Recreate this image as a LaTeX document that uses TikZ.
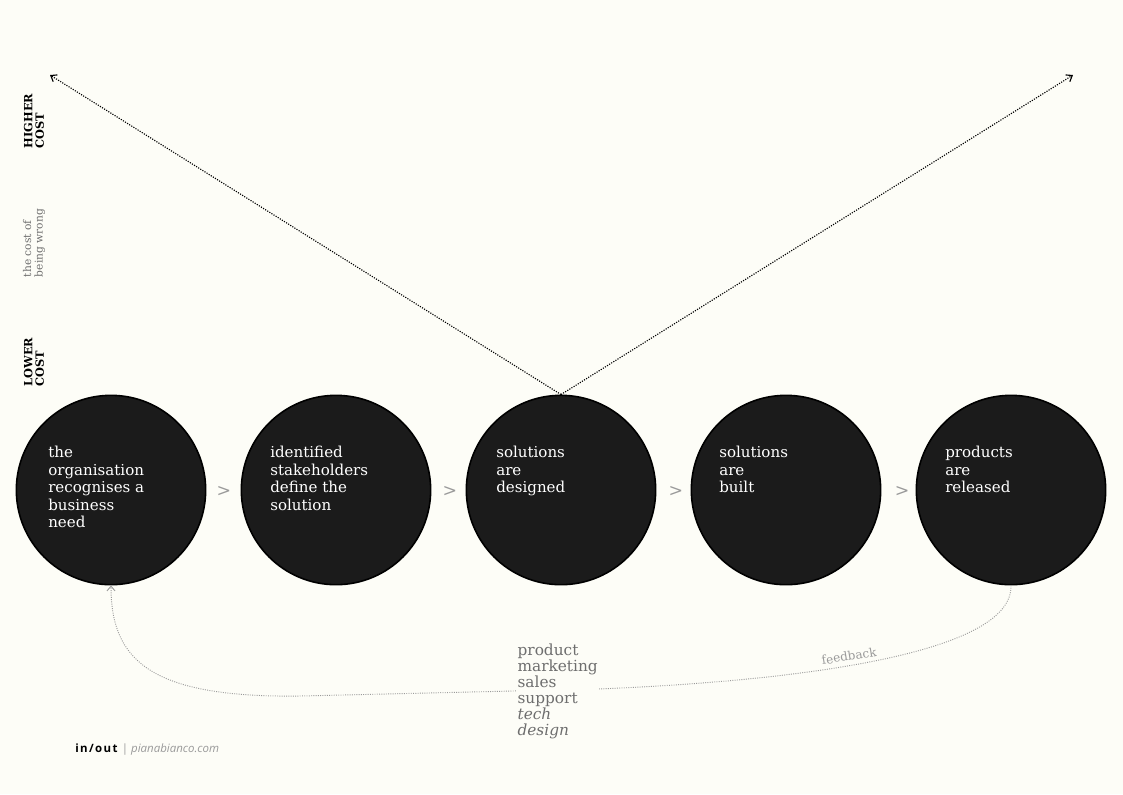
\documentclass[tikz,border=0pt]{standalone}
\usepackage{fontspec}
\setmainfont{DejaVu Serif}
\newfontfamily\footfont{Open Sans}
\usetikzlibrary{arrows.meta}
\definecolor{bgc}{HTML}{FDFDF7}
\definecolor{disc}{HTML}{1B1B1B}
\definecolor{greytxt}{HTML}{6E6E6E}
\definecolor{lightgrey}{HTML}{9A9A9A}
\tikzset{
  stage/.style={circle, draw=black, line width=1.2pt, fill=disc, minimum size=142pt, inner sep=0pt},
  stagetext/.style={anchor=north west, text=white, align=left, font=\fontsize{11.3}{13.1}\selectfont, inner sep=0pt},
  sep/.style={text=lightgrey, font=\fontsize{13}{13}\selectfont},
  costarrow/.style={densely dotted, line width=0.85pt, -{Straight Barb[length=4pt,width=6pt]}},
  fb/.style={densely dotted, draw=lightgrey, line width=0.7pt, -{Straight Barb[length=3.5pt,width=6pt]}},
  axislabel/.style={rotate=90, align=left, font=\fontsize{8.5}{8.5}\selectfont\bfseries, inner sep=0pt},
  axisnote/.style={rotate=90, align=left, text=greytxt, font=\fontsize{8}{8.5}\selectfont, inner sep=0pt}
}
\begin{document}
\begin{tikzpicture}[x=0.75pt,y=-0.75pt]
\fill[bgc] (0,0) rectangle (1123,794);
\useasboundingbox (0,0) rectangle (1123,794);

\node[stage] (c1) at (111,490) {};
\node[stage] (c2) at (336,490) {};
\node[stage] (c3) at (561,490) {};
\node[stage] (c4) at (786,490) {};
\node[stage] (c5) at (1011,490) {};

\node[stagetext] (t1) at (48,446) {the\\organisation\\recognises a\\business\\need};
\node[stagetext] (t2) at (270,446) {identified\\stakeholders\\define the\\solution};
\node[stagetext] (t3) at (496,446) {solutions\\are\\designed};
\node[stagetext] (t4) at (719,446) {solutions\\are\\built};
\node[stagetext] (t5) at (945,446) {products\\are\\released};

\node[sep] (s1) at (224,491) {>};
\node[sep] (s2) at (450,491) {>};
\node[sep] (s3) at (676,491) {>};
\node[sep] (s4) at (902,491) {>};

\coordinate (hl) at (50,75);
\coordinate (hr) at (1073,75);
\draw[costarrow] (c3.north) -- (hl);
\draw[costarrow] (c3.north) -- (hr);

\node[axislabel] (hc) at (34,121) {HIGHER\\COST};
\node[axisnote] (cw) at (34,243) {the cost of\\being wrong};
\node[axislabel] (lc) at (34,362) {LOWER\\COST};

\draw[fb] (c5.south) .. controls (1013,650) and (820,680) .. (598,689)
  -- (300,696) .. controls (150,698) and (111,660) .. (c1.south);

\node[anchor=north west, align=left, text=greytxt, fill=bgc, inner sep=1pt,
  font=\fontsize{11.5}{12}\selectfont] (roles) at (516,642)
  {product\\marketing\\sales\\support\\\textit{tech}\\\textit{design}};

\node[rotate=9, text=lightgrey, font=\fontsize{9}{9}\selectfont] (fbl) at (849,656) {feedback};

\node[anchor=west, inner sep=0pt, font=\footfont\fontsize{8.6}{9}\selectfont] (foot) at (75,750)
  {\textbf{\addfontfeature{LetterSpace=12}in/out} \textcolor{lightgrey}{| \textit{pianabianco.com}}};
\end{tikzpicture}
\end{document}
